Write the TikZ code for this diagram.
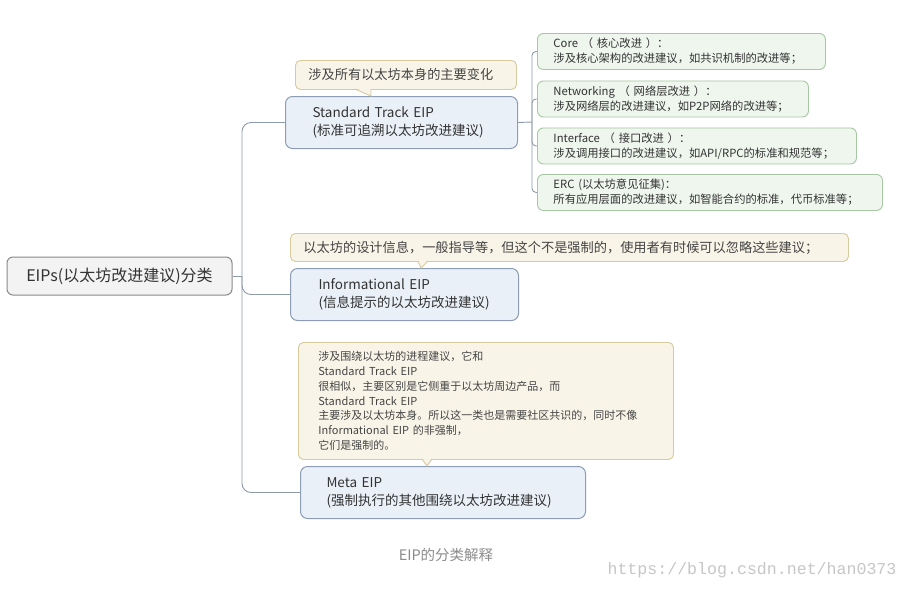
\documentclass[tikz,border=0pt]{standalone}
\usepackage{fontspec}
\setmainfont{Noto Sans CJK SC}
\newfontfamily\wmfont{Liberation Mono}
\usepackage{xcolor}
\definecolor{rootfill}{HTML}{F3F3F3}
\definecolor{rootline}{HTML}{8A8A8A}
\definecolor{boxfill}{HTML}{EAF0F8}
\definecolor{boxline}{HTML}{8C9DB5}
\definecolor{subfill}{HTML}{EEF6EE}
\definecolor{subline}{HTML}{A7C7A4}
\definecolor{notefill}{HTML}{F8F5E8}
\definecolor{noteline}{HTML}{D6CA9E}
\definecolor{linkc}{HTML}{8D9AAB}
\definecolor{txt}{HTML}{333333}
\definecolor{notetxt}{HTML}{444444}

\begin{document}
\begin{tikzpicture}[x=1pt,y=-1pt,
    rootbox/.style={draw=rootline, fill=rootfill, rounded corners=6pt, line width=1pt, minimum width=225pt, minimum height=38pt, font=\fontsize{16}{18}\selectfont, text=txt},
    eipbox/.style={draw=boxline, fill=boxfill, rounded corners=7pt, line width=1pt, anchor=north west, align=left, inner xsep=27pt, minimum height=52pt, font=\fontsize{13.5}{18}\selectfont, text=txt},
    subbox/.style={draw=subline, fill=subfill, rounded corners=6pt, line width=0.9pt, anchor=north west, align=left, inner xsep=16pt, minimum height=36pt, font=\fontsize{11.3}{15}\selectfont, text=txt},
    notebox/.style={draw=noteline, fill=notefill, rounded corners=5pt, line width=0.9pt, anchor=north west, align=left, inner xsep=13pt, font=\fontsize{13.2}{16}\selectfont, text=notetxt},
    link/.style={draw=linkc, line width=0.9pt, rounded corners=9pt}]
        \useasboundingbox[fill=white] (0,0) rectangle (908,590);

        % root
        \node[rootbox] (root) at (119.5,276) {EIPs(以太坊改进建议)分类};

        % three kinds
        \node[eipbox, text width=178pt] (std) at (285,96) {Standard Track EIP\\(标准可追溯以太坊改进建议)};
        \node[eipbox, text width=172pt, inner xsep=28pt] (info) at (290,268) {Informational EIP\\(信息提示的以太坊改进建议)};
        \node[eipbox, text width=233pt, inner xsep=26pt] (meta) at (300,466) {Meta EIP\\(强制执行的其他围绕以太坊改进建议)};

        % notes
        \node[notebox, text width=195pt, minimum height=29pt] (stdnote) at (295,60) {涉及所有以太坊本身的主要变化};
        \fill[notefill] (356,88) -- (371,96) -- (370.5,88) -- cycle;
        \draw[noteline, line width=0.9pt] (355,89) -- (371,96) -- (371,89);

        \node[notebox, text width=532pt, minimum height=28pt] (infonote) at (290,233) {以太坊的设计信息，一般指导等，但这个不是强制的，使用者有时候可以忽略这些建议；};
        \fill[notefill] (418.5,260) -- (421,268) -- (427.5,260) -- cycle;
        \draw[noteline, line width=0.9pt] (418,261) -- (421,268) -- (428,261);

        \node[notebox, text width=335pt, minimum height=117pt, inner xsep=20pt, font=\fontsize{11}{14.8}\selectfont] (metanote) at (298,342)
            {涉及围绕以太坊的进程建议，它和\\Standard Track EIP\\很相似，主要区别是它侧重于以太坊周边产品，而\\Standard Track EIP\\主要涉及以太坊本身。所以这一类也是需要社区共识的，同时不像\\Informational EIP 的非强制，\\它们是强制的。};
        \fill[notefill] (422.5,458) -- (427,466) -- (431.5,458) -- cycle;
        \draw[noteline, line width=0.9pt] (422,459) -- (427,466) -- (432,459);

        % standard track parts
        \node[subbox, text width=256pt] (core) at (537,33) {Core （ 核心改进 ）：\\涉及核心架构的改进建议，如共识机制的改进等；};
        \node[subbox, text width=239pt] (net) at (537,80.5) {Networking （ 网络层改进 ）：\\涉及网络层的改进建议，如P2P网络的改进等；};
        \node[subbox, text width=287pt] (iface) at (537,127.5) {Interface （ 接口改进 ）：\\涉及调用接口的改进建议，如API/RPC的标准和规范等；};
        \node[subbox, text width=313pt] (erc) at (537,174) {ERC (以太坊意见征集)：\\所有应用层面的改进建议，如智能合约的标准，代币标准等；};

        % connectors
        \coordinate (tk) at (242,276);
        \draw[link] (root.east) -- (tk);
        \draw[link] (tk) |- (std.west);
        \draw[link] (tk) |- (info.west);
        \draw[link] (tk) |- (meta.west);

        \coordinate (gk) at (532,122);
        \draw[link] (std.east) -- (gk);
        \draw[link, rounded corners=4pt] (gk) |- (core.west);
        \draw[link, rounded corners=4pt] (gk) |- (net.west);
        \draw[link, rounded corners=4pt] (gk) |- (iface.west);
        \draw[link, rounded corners=4pt] (gk) |- (erc.west);

        % caption and mark
        \node[text=black!45, font=\fontsize{14.5}{16}\selectfont] (cap) at (446,555) {EIP的分类解释};
        \node[text=black!22, font=\wmfont\fontsize{16.6}{18}\selectfont] (mark) at (752,570) {https://blog.csdn.net/han0373};
    \end{tikzpicture}
\end{document}
